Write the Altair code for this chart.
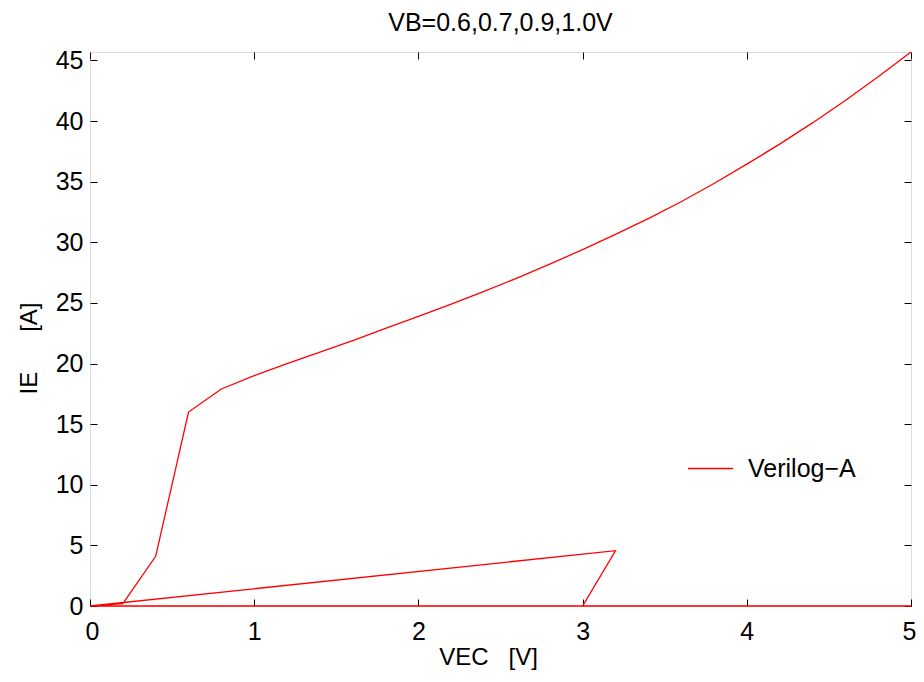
import altair as alt
import pandas as pd

# ---- data ----
vec_low = [0.0, 3.0, 3.2, 0.0, 5.0, 0.0]
ie_low = [0.0, 0.0, 4.56, 0.0, 0.0, 0.0]
vec_main = [0.0, 0.2, 0.4, 0.6, 0.8, 1.0, 1.2, 1.4, 1.6, 1.8, 2.0, 2.2, 2.4, 2.6, 2.8,
            3.0, 3.2, 3.4, 3.6, 3.8, 4.0, 4.2, 4.4, 4.6, 4.8, 5.0]
ie_main = [0.0, 0.2, 4.1, 16.0, 17.9, 19.0, 20.0, 20.95, 21.9, 22.9, 23.9, 24.9, 25.95,
           27.05, 28.2, 29.4, 30.65, 31.95, 33.35, 34.85, 36.45, 38.1, 39.85, 41.7, 43.65, 45.7]
x_ticks = [0, 1, 2, 3, 4, 5]
y_ticks = [0, 5, 10, 15, 20, 25, 30, 35, 40, 45]
series_name = "Verilog\u2212A"
chart_title = "VB=0.6,0.7,0.9,1.0V"
NB = "\u00a0"
x_title = "VEC" + NB * 3 + "[V]"
y_title = "IE" + NB * 6 + "[A]"

vec = vec_low + vec_main
ie = ie_low + ie_main
df = pd.DataFrame({"VEC": vec, "IE": ie, "step": list(range(len(vec))), "series": series_name})

FONT = "Liberation Sans"
TICK = 7
W, H = 821, 554

xs = alt.Scale(domain=[0, 5], nice=False, zero=False)
ys = alt.Scale(domain=[0, 45.7], nice=False, zero=False)

common = dict(offset=-TICK, tickSize=TICK, domain=False, grid=False,
              tickColor="black", tickWidth=1, labelColor="black",
              labelFont=FONT, labelFontSize=25, titleFont=FONT,
              titleFontSize=24, titleFontWeight="normal", titleColor="black")

line = alt.Chart(df).mark_line(strokeWidth=1.3, clip=False).encode(
    x=alt.X("VEC:Q", scale=xs,
            axis=alt.Axis(values=x_ticks, orient="bottom", title=x_title,
                          labelFlush=True, labelFlushOffset=5,
                          labelPadding=13, titlePadding=1, titleX=398, **common)),
    y=alt.Y("IE:Q", scale=ys,
            axis=alt.Axis(values=y_ticks, orient="left", title=y_title, labelFlush=False,
                          labelPadding=7, titlePadding=14, titleY=296, **common)),
    color=alt.Color("series:N", scale=alt.Scale(range=["#ff0000"]),
                    legend=alt.Legend(title=None, orient="none", legendX=597, legendY=393,
                                      symbolType="stroke", symbolSize=2025,
                                      symbolStrokeWidth=1.3, labelOffset=14,
                                      labelFont=FONT, labelFontSize=25,
                                      labelColor="black", padding=0)),
    order="step:Q",
)

frame = alt.Chart(df).mark_line(opacity=0).encode(
    x=alt.X("VEC:Q", scale=xs,
            axis=alt.Axis(values=x_ticks, orient="top", title=None, labels=False, **common)),
    y=alt.Y("IE:Q", scale=ys,
            axis=alt.Axis(values=y_ticks, orient="right", title=None, labels=False, **common)),
    order="step:Q",
)

chart = alt.layer(frame, line).resolve_axis(
    x="independent", y="independent"
).resolve_scale(x="shared", y="shared").properties(
    width=W, height=H,
    title=alt.TitleParams(chart_title, font=FONT, fontSize=25, fontWeight="normal",
                          color="black", anchor="middle", baseline="alphabetic",
                          offset=19, dy=27),
    padding={"left": 82, "top": 44, "right": 5, "bottom": 64},
    autosize=alt.AutoSizeParams(type="none"),
).configure_view(stroke="black", strokeWidth=1.3).configure(background="white")

chart.save("out.html", embed_options={"renderer": "svg", "actions": False})
